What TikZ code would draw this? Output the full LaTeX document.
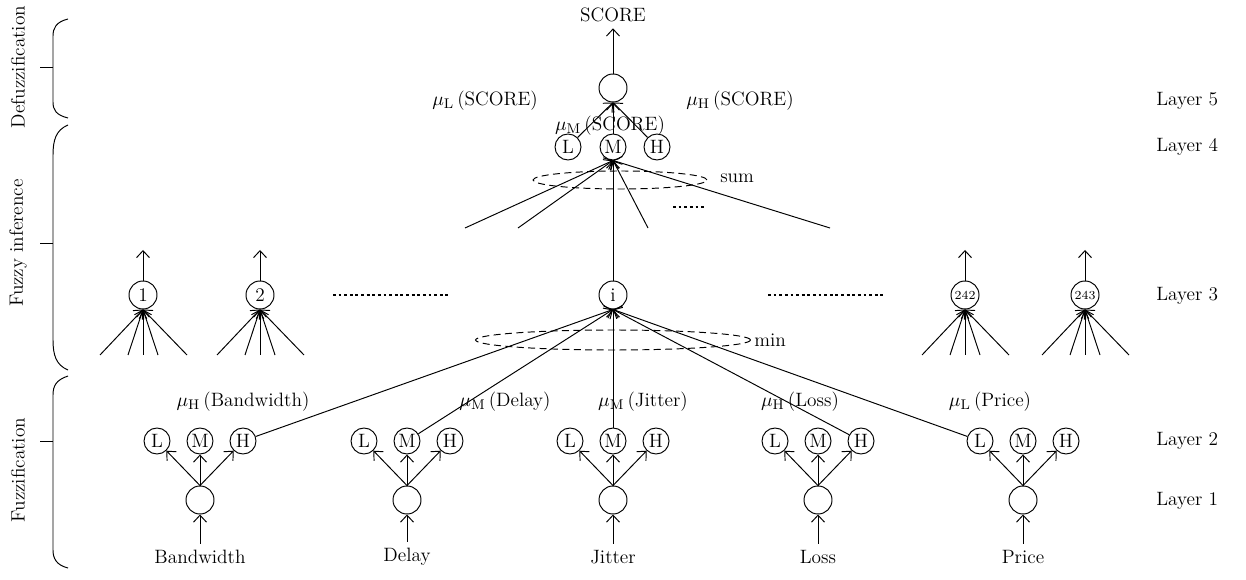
\documentclass[tikz,border=0pt]{standalone}
\usetikzlibrary{positioning,arrows.meta}
\tikzset{>={Straight Barb[length=1.4mm,width=2.6mm]}}
\tikzset{
  neuron/.style = {draw,circle,minimum size=0.56cm,inner sep=0pt},
  mf/.style = {draw,circle,minimum size=0.52cm,inner sep=0pt},
  layer/.style = {anchor=west},
  part/.style = {rotate=90},
  pool/.style = {draw,dashed,dash pattern=on 4pt off 2.5pt},
  gap/.style = {line width=1.3pt,dash pattern=on 1.6pt off 1.6pt}
}
\newcommand{\mfl}[2]{$\mu_{\mathrm{#1}}$\,(#2)}

\begin{document}
\begin{tikzpicture}[x=0.02cm,y=-0.02cm,font=\fontsize{11}{13}\selectfont,line width=0.55pt]
  \useasboundingbox (0,0) rectangle (1246,580);

  % layers 1 and 2
  \foreach \n/\x in {Bandwidth/200,Delay/407,Jitter/613,Loss/818,Price/1023}{
    \node[neuron] (in\n) at (\x,500) {};
    \node (txt\n) at (\x,557) {\n};
    \node[mf] (\n L) at (\x-43,441) {L};
    \node[mf] (\n M) at (\x,441) {M};
    \node[mf] (\n H) at (\x+43,441) {H};
    \draw[->] (txt\n) -- (in\n);
    \foreach \m in {L,M,H}
      \draw[->] (in\n.north) -- (\n\m);
  }

  % layer 3
  \foreach \k/\x in {1/143,2/260,242/965,243/1085}{
    \node[neuron] (r\k) at (\x,295) {\ifnum\k>9 \scriptsize\fi\k};
    \coordinate (o\k) at (\x,250);
    \draw[->] (r\k) -- (o\k);
    \foreach \d in {-43,-15,0,15,44}{
      \coordinate (f\k\d) at (\x+\d,355);
      \draw[->] (f\k\d) -- (r\k.south);
    }
  }
  \node[neuron] (ri) at (613,295) {i};
  \foreach \s in {BandwidthH,DelayM,JitterM,LossH,PriceL}
    \draw[->] (\s) -- (ri.south);
  \draw[pool] (613,340) ellipse [x radius=2.75cm,y radius=0.2cm];
  \node[anchor=west,inner sep=1pt] (min) at (752,340) {min};
  \coordinate (g1) at (333,295); \coordinate (g2) at (450,295);
  \coordinate (g3) at (768,295); \coordinate (g4) at (885,295);
  \draw[gap] (g1) -- (g2);
  \draw[gap] (g3) -- (g4);

  \node at (243,402) {\mfl{H}{Bandwidth}};
  \node at (505,402) {\mfl{M}{Delay}};
  \node at (643,402) {\mfl{M}{Jitter}};
  \node at (800,402) {\mfl{H}{Loss}};
  \node at (990,402) {\mfl{L}{Price}};

  % layer 4
  \node[mf] (sL) at (568,147) {L};
  \node[mf] (sM) at (613,147) {M};
  \node[mf] (sH) at (657,147) {H};
  \draw[->] (ri) -- (sM.south);
  \foreach \x in {465,518,648,830}{
    \coordinate (t\x) at (\x,228);
    \draw[->] (t\x) -- (sM.south);
  }
  \draw[pool] (620,180) ellipse [x radius=1.74cm,y radius=0.18cm];
  \node[anchor=west,inner sep=1pt] (sum) at (718,178) {sum};
  \coordinate (g5) at (673,207); \coordinate (g6) at (705,207);
  \draw[gap] (g5) -- (g6);

  % layer 5
  \node[neuron] (out) at (613,88) {};
  \node (score) at (613,15) {SCORE};
  \foreach \m in {sL,sM,sH}
    \draw[->] (\m) -- (out.south);
  \draw[->] (out) -- (score);
  \node at (485,101) {\mfl{L}{SCORE}};
  \node at (740,101) {\mfl{H}{SCORE}};
  \node at (610,126) {\mfl{M}{SCORE}};

  % layer names
  \node[layer] at (1150,101) {Layer 5};
  \node[layer] at (1150,147) {Layer 4};
  \node[layer] at (1150,296) {Layer 3};
  \node[layer] at (1150,441) {Layer 2};
  \node[layer] at (1150,501) {Layer 1};

  % braces
  \draw (68,19) .. controls (56,22) and (53,28) .. (53,36) -- (53,102)
    .. controls (53,110) and (56,115) .. (68,118);
  \draw (40,67) -- (53,67);
  \draw (68,125) .. controls (56,130) and (53,140) .. (53,155) -- (53,340)
    .. controls (53,355) and (56,365) .. (68,370);
  \draw (40,243) -- (53,243);
  \draw (68,376) .. controls (56,380) and (53,386) .. (53,395) -- (53,550)
    .. controls (53,558) and (56,565) .. (68,568);
  \draw (40,441) -- (53,441);
  \node[part] at (18,67) {Defuzzification};
  \node[part] at (18,243) {Fuzzy inference};
  \node[part] at (18,470) {Fuzzification};
\end{tikzpicture}
\end{document}
